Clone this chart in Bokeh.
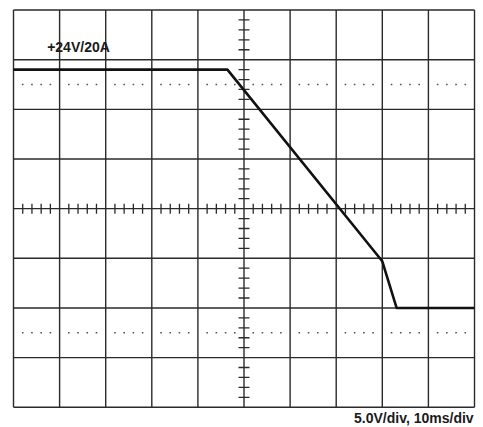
import numpy as np
from bokeh.plotting import figure
from bokeh.models import Range1d, Label
from bokeh.embed import file_html
from bokeh.resources import INLINE

# Trace data (time in ms, voltage in V; 5 V/div, 10 ms/div)
time_ms = [0.0, 46.4, 80.0, 83.1, 100.0]
volts = [24.0, 24.0, 4.7, 0.0, 0.0]

x_major = list(range(0, 101, 10))
y_major = list(range(-10, 31, 5))
x_center = 50.0
y_center = 10.0
dotted_levels = [22.5, -2.5]

top_label = "+24V/20A"
scale_label = "5.0V/div,  10ms/div"

p = figure(width=483, height=427, output_backend="svg", toolbar_location=None,
           x_range=Range1d(-2.82, 101.95), y_range=Range1d(-12.04, 30.96),
           min_border=0)
p.xaxis.visible = False
p.yaxis.visible = False
p.xgrid.visible = False
p.ygrid.visible = False
p.outline_line_color = None
p.background_fill_color = "white"
p.border_fill_color = "white"

GRID = "#2a2a2a"
x0, x1 = x_major[0], x_major[-1]
y0, y1 = y_major[0], y_major[-1]

# graticule
p.segment(x0=x_major, y0=[y0] * len(x_major), x1=x_major, y1=[y1] * len(x_major),
          line_color=GRID, line_width=1.4)
p.segment(x0=[x0] * len(y_major), y0=y_major, x1=[x1] * len(y_major), y1=y_major,
          line_color=GRID, line_width=1.4)

# minor subdivisions (5 per division)
x_minor = [v for v in np.arange(0, 100.01, 2.0) if abs(v % 10) > 1e-6 and abs(v % 10 - 10) > 1e-6]
y_minor = [v for v in np.arange(-10, 30.01, 1.0) if abs(v % 5) > 1e-6 and abs(v % 5 - 5) > 1e-6]

# dotted reference lines
for lvl in dotted_levels:
    p.scatter(x_minor, [lvl] * len(x_minor), marker="square", size=1.6,
              line_color=None, fill_color="#555555")

# center graticule ticks
p.scatter(x_minor, [y_center] * len(x_minor), marker="dash", angle=np.pi / 2,
          size=10, line_color=GRID, line_width=1.3)
p.scatter([x_center] * len(y_minor), y_minor, marker="dash",
          size=11, line_color=GRID, line_width=1.3)

# trace
p.line(time_ms, volts, line_color="#111111", line_width=2.6, line_join="round")

p.add_layout(Label(x=7.3, y=26.26, text=top_label,
                   text_font="Liberation Sans", text_font_style="bold",
                   text_font_size="14px", text_color="#1a1a1a", text_baseline="alphabetic"))
p.add_layout(Label(x=100.65, y=-11.13, text=scale_label,
                   text_font="Liberation Sans", text_font_style="bold",
                   text_font_size="14px", text_color="#1a1a1a", text_align="right",
                   text_baseline="alphabetic"))

open("out.html", "w").write(file_html(p, INLINE))
